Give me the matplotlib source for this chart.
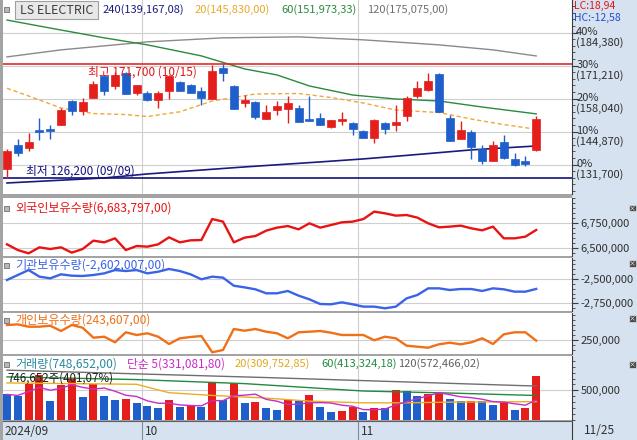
import numpy as np
import pandas as pd
import matplotlib.pyplot as plt
from matplotlib.patches import Rectangle
from matplotlib.ticker import MultipleLocator

plt.rcParams['font.family'] = ['Noto Sans CJK KR', 'DejaVu Sans']

# ---- data ----
dates = ['09/09', '09/10', '09/11', '09/12', '09/13', '09/19', '09/20', '09/23', '09/24', '09/25',
         '09/26', '09/27', '09/30', '10/02', '10/04', '10/07', '10/08', '10/10', '10/11', '10/14',
         '10/15', '10/16', '10/17', '10/18', '10/21', '10/22', '10/23', '10/24', '10/25', '10/28',
         '10/29', '10/30', '10/31', '11/01', '11/04', '11/05', '11/06', '11/07', '11/08', '11/11',
         '11/12', '11/13', '11/14', '11/15', '11/18', '11/19', '11/20', '11/21', '11/22', '11/25']

opens = [129900, 139400, 138400, 145700, 145800, 147700, 157100, 153000, 158400, 167000,
         163100, 168300, 160400, 160300, 157400, 161000, 164700, 163600, 161000, 158000,
         170300, 163100, 156500, 156700, 150100, 153700, 154100, 154300, 150100, 150300,
         146700, 149100, 148300, 145100, 142400, 148500, 147700, 151000, 159100, 161600,
         167800, 150300, 142100, 144800, 137800, 133300, 140800, 134100, 133200, 137400]
highs = [137800, 142100, 144400, 150300, 147400, 154300, 157400, 158300, 165000, 167600,
         168700, 168700, 163600, 161000, 161000, 167400, 165000, 164000, 162700, 171300,
         171700, 163600, 159400, 157000, 155700, 157000, 159000, 155400, 159000, 152300,
         149400, 152700, 148700, 145400, 149800, 148700, 155400, 159000, 165100, 168300,
         168300, 151400, 149000, 145400, 139400, 141000, 143700, 136500, 135000, 151000]
lows = [126200, 135200, 137000, 141400, 141800, 147700, 151400, 151400, 158400, 159600,
        162000, 160000, 159600, 157000, 154300, 158000, 161000, 160400, 155400, 158000,
        165000, 154100, 154700, 150100, 150100, 151700, 148300, 148700, 149300, 147400,
        146500, 147700, 143400, 142400, 140500, 144100, 145100, 149000, 158300, 161000,
        152700, 141200, 142100, 133800, 132100, 133300, 134100, 131200, 131100, 137000]
closes = [137000, 136500, 140800, 144900, 145000, 153700, 153000, 156600, 164000, 161000,
          167400, 160000, 163400, 157700, 160300, 167100, 161000, 160400, 158300, 169100,
          168400, 154100, 157700, 150700, 152700, 155000, 156300, 148700, 149300, 147400,
          149400, 150100, 146100, 142400, 149400, 146100, 148700, 158400, 162300, 165100,
          152700, 141200, 145500, 138800, 133200, 139400, 134500, 131500, 131800, 150100]

# price moving averages (bar index, value)
ma240_idx = [0, 9, 13, 22, 29, 33, 37, 43, 49]
ma240_val = [124400, 126400, 128000, 130800, 132800, 134000, 135400, 137600, 139167]
ma20_idx = [0, 2, 5, 8, 11, 13, 16, 19, 23, 27, 30, 33, 36, 40, 43, 46, 49]
ma20_val = [162200, 159100, 154300, 152100, 151700, 150900, 152800, 157100, 159900, 160100,
            158500, 156300, 153500, 152500, 149900, 147700, 145830]
ma60_idx = [0, 4, 9, 13, 18, 22, 25, 28, 32, 36, 40, 44, 49]
ma60_val = [189400, 186200, 182300, 179500, 175100, 169900, 167500, 163100, 159500, 157900,
            157100, 154700, 151973]
ma120_idx = [0, 5, 13, 20, 27, 33, 40, 45, 49]
ma120_val = [174700, 177500, 180700, 182300, 182700, 181500, 179500, 177500, 175075]

foreign = [6540000, 6483000, 6450000, 6510000, 6493000, 6510000, 6457000, 6493000, 6577000, 6560000,
           6600000, 6483000, 6523000, 6517000, 6540000, 6610000, 6560000, 6580000, 6583000, 6793000,
           6767000, 6560000, 6607000, 6623000, 6677000, 6707000, 6723000, 6690000, 6750000, 6707000,
           6733000, 6760000, 6767000, 6793000, 6867000, 6850000, 6827000, 6833000, 6807000, 6750000,
           6710000, 6717000, 6727000, 6700000, 6680000, 6717000, 6600000, 6600000, 6617000, 6683797]
inst = [-2510000, -2459000, -2408000, -2476000, -2493000, -2452000, -2466000, -2469000, -2459000, -2442000,
        -2408000, -2418000, -2408000, -2442000, -2425000, -2397000, -2418000, -2452000, -2503000, -2476000,
        -2486000, -2569000, -2586000, -2606000, -2647000, -2647000, -2623000, -2671000, -2709000, -2757000,
        -2760000, -2740000, -2760000, -2784000, -2784000, -2801000, -2784000, -2699000, -2664000, -2596000,
        -2596000, -2613000, -2603000, -2603000, -2623000, -2596000, -2606000, -2630000, -2630000, -2602007]
indiv = [400000, 406000, 383000, 383000, 393000, 340000, 400000, 373000, 273000, 283000,
         227000, 327000, 300000, 317000, 283000, 210000, 267000, 280000, 290000, 127000,
         150000, 360000, 343000, 360000, 333000, 317000, 267000, 327000, 333000, 340000,
         323000, 300000, 300000, 300000, 247000, 283000, 267000, 193000, 183000, 173000,
         207000, 223000, 207000, 227000, 267000, 210000, 307000, 327000, 327000, 243607]

vol = [431800, 397700, 613700, 755700, 312500, 596600, 698900, 386400, 613700, 397700,
       329600, 358000, 284100, 244300, 198900, 329600, 215900, 233000, 215900, 642100,
       329600, 625000, 284100, 301100, 198900, 176100, 340900, 318200, 414800, 215900,
       142000, 159100, 227300, 130700, 204600, 198900, 511400, 488700, 397700, 443200,
       460200, 346600, 312500, 318200, 312500, 261400, 301100, 176100, 198900, 748652]
vma20_idx = [0, 12, 15, 19, 24, 28, 33, 37, 41, 49]
vma20_val = [625000, 602300, 460200, 414800, 369300, 318200, 289800, 289800, 301100, 309753]
vma60_idx = [0, 12, 22, 33, 41, 49]
vma60_val = [727300, 681800, 613700, 488700, 454600, 413324]
vma120_idx = [0, 24, 49]
vma120_val = [841000, 716000, 572466]

price_ticks = [131700, 144870, 158040, 171210, 184380]

RED = '#e41e1a'
BLUE = '#1f5fcc'
GRID = '#cfcfcf'

# ---- layout in pixels ----
W, H = 637, 440
L, R = 3, 572
fig = plt.figure(figsize=(W / 100, H / 100), dpi=100)
fig.patch.set_facecolor('#a3a3a3')


def rect(top, bottom, left=L, right=R):
    return [left / W, 1 - bottom / H, (right - left) / W, (bottom - top) / H]


def ftext(x, y, s, **kw):
    kw.setdefault('va', 'center')
    kw.setdefault('fontsize', 8)
    return fig.text(x / W, 1 - y / H, s, **kw)


fig.add_artist(Rectangle((R / W, 0), (W - R) / W, 1, transform=fig.transFigure,
                         facecolor='#d6e2f0', edgecolor='none', zorder=-5))

x = np.arange(len(dates))
xlim = (-(7 - L) / 10.8, (R - 7) / 10.8)
month_lines = [i - 0.5 for i in range(1, len(dates)) if dates[i][:2] != dates[i - 1][:2]]


def panel(top, bottom, ylim, ticks, minor, labels=True):
    ax = fig.add_axes(rect(top, bottom))
    ax.set_xlim(*xlim)
    ax.set_ylim(*ylim)
    for s in ['top', 'left', 'bottom']:
        ax.spines[s].set_visible(False)
    ax.spines['right'].set_color('#3c3c3c')
    ax.yaxis.tick_right()
    ax.set_yticks(ticks)
    ax.yaxis.set_minor_locator(MultipleLocator(minor))
    if labels:
        ax.set_yticklabels([f'{t:,}' for t in ticks])
    else:
        ax.set_yticklabels([''] * len(ticks))
    ax.tick_params(axis='y', which='major', length=4, color='#3c3c3c', labelsize=8,
                   labelcolor='#303030', pad=2)
    ax.tick_params(axis='y', which='minor', length=2, color='#3c3c3c')
    ax.set_xticks([])
    for m in month_lines:
        ax.axvline(m, color=GRID, lw=0.8, zorder=0)
    for t in ticks:
        ax.axhline(t, color=GRID, lw=0.8, zorder=0)
    return ax


# ---- price panel ----
ax = panel(0, 194, (120000, 197400), price_ticks, 2634, labels=False)
for k, t in enumerate(price_ticks):
    ax.annotate(f'{k * 10}%\n({t:,})', xy=(1, t), xycoords=ax.get_yaxis_transform(),
                xytext=(3, 4), textcoords='offset points', va='top', ha='left',
                fontsize=8, color='#303030', linespacing=0.95, annotation_clip=False)

o, h, lo, c = map(np.array, (opens, highs, lows, closes))
col = np.where(c >= o, RED, BLUE)
ax.vlines(x, lo, h, colors=col, lw=1, zorder=3)
ax.bar(x, np.maximum(np.abs(c - o), 350), bottom=np.minimum(o, c), width=0.74,
       color=col, edgecolor=col, lw=0.5, zorder=4)

ax.plot(ma120_idx, ma120_val, color='#8a8a8a', lw=1, zorder=2)
ax.plot(ma60_idx, ma60_val, color='#2a8a3e', lw=1, zorder=2)
ax.plot(ma20_idx, ma20_val, color='#f0a838', lw=1, ls=(0, (3, 2)), zorder=2)
ax.plot(ma240_idx, ma240_val, color='#1a1a80', lw=1.2, zorder=2)

hi_i, lo_i = int(np.argmax(h)), int(np.argmin(lo))
ax.axhline(h[hi_i], color='#e01818', lw=1.1, zorder=2)
ax.axhline(lo[lo_i], color='#12127e', lw=1.2, zorder=2)
ax.text(hi_i - 2.4, 168800, f'최고 {h[hi_i]:,} ({dates[hi_i]})', color='#e01818',
        fontsize=8.5, ha='right', va='center', zorder=5)
ax.text(lo_i + 1.8, 129200, f'최저 {lo[lo_i]:,} ({dates[lo_i]})', color='#12127e',
        fontsize=8.5, ha='left', va='center', zorder=5)

# top legend
fig.add_artist(Rectangle((4 / W, 1 - 12 / H), 5 / W, 5 / H, transform=fig.transFigure,
                         facecolor='#b8b8b8', edgecolor='#707070', lw=0.6))
fig.add_artist(Rectangle((15 / W, 1 - 19 / H), 83 / W, 18 / H, transform=fig.transFigure,
                         facecolor='#e8e8e8', edgecolor='#a0a0a0', lw=0.8))
ftext(20, 10, 'LS ELECTRIC', fontsize=9, color='#404040')
ftext(103, 10, '240(139,167,08)', color='#1a1a80')
ftext(195, 10, '20(145,830,00)', color='#e8a828')
ftext(281, 10, '60(151,973,33)', color='#2a8a3e')
ftext(367, 10, '120(175,075,00)', color='#707070')
ftext(574, 6, 'LC:18,94', color='#e01818', fontsize=7.5)
ftext(574, 17.5, 'HC:-12,58', color='#2050d0', fontsize=7.5)

# ---- indicator panels ----
ax1 = panel(198, 256, (6423400, 7003300), [6500000, 6750000], 50000)
ax1.plot(x, foreign, color='#e81414', lw=1.7)
ax2 = panel(258, 311, (-2828800, -2284200), [-2750000, -2500000], 50000)
ax2.plot(x, inst, color='#3a64e6', lw=1.7)
ax3 = panel(313, 354, (110000, 520000), [250000], 50000)
ax3.plot(x, indiv, color='#f07018', lw=1.7)

# ---- volume panel ----
ax4 = panel(356, 420, (0, 1079600), [500000], 100000)
v = np.array(vol)
vcol = [BLUE] + [RED if v[i] > v[i - 1] else BLUE for i in range(1, len(v))]
ax4.bar(x, v, width=0.74, color=vcol, zorder=2)
vma5 = pd.Series(v).rolling(5, min_periods=1).mean()
ax4.plot(vma120_idx, vma120_val, color='#6e6e6e', lw=1, zorder=3)
ax4.plot(vma60_idx, vma60_val, color='#208a40', lw=1, zorder=3)
ax4.plot(vma20_idx, vma20_val, color='#e8b020', lw=1, zorder=3)
ax4.plot(x, vma5, color='#c82cc8', lw=1, zorder=3)

for yy, s, cc in [(208, '외국인보유수량(6,683,797,00)', '#e81414'),
                  (265, '기관보유수량(-2,602,007,00)', '#3a64e6'),
                  (320, '개인보유수량(243,607,00)', '#f07018'),
                  (364, '거래량(748,652,00)', '#2a8aa0')]:
    fig.add_artist(Rectangle((4 / W, 1 - (yy + 3) / H), 5 / W, 5 / H, transform=fig.transFigure,
                             facecolor='#b8b8b8', edgecolor='#707070', lw=0.6))
    ftext(15, yy, s, color=cc, fontsize=8.7)
ftext(127, 364, '단순 5(331,081,80)', color='#c82cc8', fontsize=8.5)
ftext(235, 364, '20(309,752,85)', color='#e0a820')
ftext(321, 364, '60(413,324,18)', color='#208a40')
ftext(398, 364, '120(572,466,02)', color='#606060')
ftext(7, 378, '746,652주(401,07%)', color='#202020', fontsize=8.3)

for yy in [208, 263, 318, 364]:
    fig.add_artist(Rectangle((629 / W, 1 - (yy + 3.5) / H), 7 / W, 7 / H, transform=fig.transFigure,
                             facecolor='#4a4a4a', edgecolor='#e0e0e0', lw=0.5))
    ftext(632.5, yy, '×', color='white', fontsize=5, ha='center')

# ---- date strip ----
axd = fig.add_axes(rect(421, 440))
axd.set_xlim(*xlim)
axd.set_ylim(0, 1)
axd.set_facecolor('#d6e2f0')
axd.set_xticks([])
axd.set_yticks([])
for s in axd.spines.values():
    s.set_visible(False)
axd.spines['top'].set_visible(True)
axd.spines['top'].set_color('#606060')
axd.spines['right'].set_visible(True)
axd.spines['right'].set_color('#3c3c3c')
axd.text(xlim[0] + 0.1, 0.45, '2024/' + dates[0][:2], fontsize=8.5, color='#303030', va='center')
for m in month_lines:
    axd.axvline(m, color='#7a8a9a', lw=0.8)
    axd.text(m + 0.25, 0.45, dates[int(m + 0.5)][:2], fontsize=8.5, color='#303030', va='center')
ftext(584, 430, dates[-1], fontsize=8.5, color='#303030')

fig.savefig('out.png', dpi=100, facecolor=fig.get_facecolor())
